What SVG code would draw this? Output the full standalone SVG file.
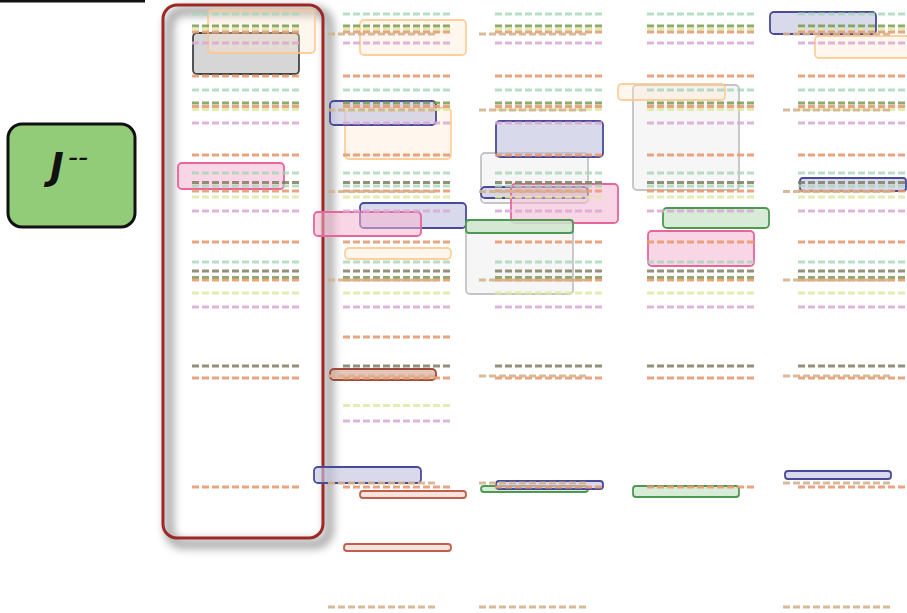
<svg xmlns="http://www.w3.org/2000/svg" xmlns:xlink="http://www.w3.org/1999/xlink" width="907" height="613" viewBox="0 0 907 613">
<style>
.d{stroke-width:3;stroke-dasharray:7 3;fill:none}
.lg{stroke:#a6d6b8;opacity:.8}
.og{stroke:#6f9648;opacity:.8}
.yg{stroke:#dfe9a2;opacity:.85}
.or{stroke:#e99a72;opacity:.9}
.pk{stroke:#dba8d4;opacity:.85}
.dk{stroke:#837d62;opacity:.85}
.tn{stroke:#d3b28e;opacity:.9}
.bx{stroke-width:1.8}
.blue{fill:#c4c4e2;fill-opacity:.65;stroke:#4a4a98}
.pink{fill:#f4b4d0;fill-opacity:.55;stroke:#e8649c}
.ofaint{fill:#ffe6cc;fill-opacity:.35;stroke:#ffc486;stroke-opacity:.8}
.gfaint{fill:#eeeeee;fill-opacity:.5;stroke:#c4c4c4}
.green{fill:#c6e2c6;fill-opacity:.7;stroke:#4c9a52}
.gsolid{fill:#d6d6d6;stroke:#444}
.brown{fill:#d49c8c;fill-opacity:.6;stroke:#a04a3a}
.rthin{fill:#f4dcd4;fill-opacity:.8;stroke:#c0604c}
</style>
<defs>
<filter id="sh" x="-20%" y="-10%" width="140%" height="120%">
<feGaussianBlur stdDeviation="5"/>
</filter>
<g id="lane">
<path class="d lg" d="M0 14H110"/>
<path class="d og" d="M0 26H110"/>
<path class="d yg" d="M0 29H110"/>
<path class="d or" d="M0 32H110"/>
<path class="d pk" d="M0 43H110"/>
<path class="d or" d="M0 76H110"/>
<path class="d lg" d="M0 90H110"/>
<path class="d og" d="M0 103H110"/>
<path class="d or" d="M0 106.5H110"/>
<path class="d yg" d="M0 109.5H110"/>
<path class="d pk" d="M0 123H110"/>
<path class="d or" d="M0 155H110"/>
<path class="d lg" d="M0 173H110"/>
<path class="d dk" d="M0 182.5H110"/>
<path class="d lg" d="M0 186H110"/>
<path class="d or" d="M0 191H110"/>
<path class="d yg" d="M0 197H110"/>
<path class="d pk" d="M0 211H110"/>
<path class="d or" d="M0 242H110"/>
<path class="d lg" d="M0 262H110"/>
<path class="d dk" d="M0 271H110"/>
<path class="d og" d="M0 277.5H110"/>
<path class="d or" d="M0 280H110"/>
<path class="d yg" d="M0 293H110"/>
<path class="d pk" d="M0 307H110"/>
<path class="d dk" d="M0 366H110"/>
<path class="d or" d="M0 378H110"/>
<path class="d or" d="M0 487H110"/>
</g>
<g id="tan">
<path class="d tn" d="M0 34H110"/>
<path class="d tn" d="M0 110H110"/>
<path class="d tn" d="M0 191.5H110"/>
<path class="d tn" d="M0 280H110"/>
<path class="d tn" d="M0 376H110"/>
<path class="d tn" d="M0 483H110"/>
<path class="d tn" d="M0 607H110"/>
</g>
</defs>
<rect x="0" y="0" width="145" height="2.5" fill="#111"/>
<g id="node-j">
<rect x="8" y="124" width="127" height="103" rx="14" fill="#93cc78" stroke="#111" stroke-width="3"/>
<text font-family="DejaVu Sans, sans-serif" font-style="italic" fill="#111"><tspan x="50" y="179" font-size="37" font-weight="bold">J</tspan><tspan x="68" y="167" font-size="28">--</tspan></text>
</g>
<g id="frame">
<rect x="169" y="11" width="160" height="533" rx="14" fill="none" stroke="#000" stroke-opacity=".4" stroke-width="8" filter="url(#sh)"/>
<rect x="163" y="5" width="160" height="533" rx="14" fill="none" stroke="#9b2a26" stroke-width="3"/>
</g>
<g id="boxes">
<g id="b1"><rect class="bx gsolid" x="193" y="33" width="106" height="41" rx="4"/></g>
<g id="b2"><rect class="bx ofaint" x="208" y="10" width="107" height="43" rx="4"/></g>
<g id="b3"><rect class="bx pink" x="178" y="163" width="106" height="26" rx="4"/></g>
<g id="b4"><rect class="bx ofaint" x="360" y="20" width="106" height="35" rx="4"/></g>
<g id="b5"><rect class="bx ofaint" x="345" y="108" width="106" height="51" rx="4"/></g>
<g id="b6"><rect class="bx blue" x="330" y="101" width="106" height="24" rx="4"/></g>
<g id="b7"><rect class="bx blue" x="360" y="203" width="106" height="25" rx="4"/></g>
<g id="b8"><rect class="bx pink" x="314" y="212" width="107" height="24" rx="4"/></g>
<g id="b9"><rect class="bx ofaint" x="345" y="248" width="106" height="11" rx="4"/></g>
<g id="b10"><rect class="bx brown" x="330" y="369" width="106" height="11" rx="4"/></g>
<g id="b11"><rect class="bx blue" x="314" y="467" width="107" height="16" rx="4"/></g>
<g id="b12"><rect class="bx rthin" x="360" y="491" width="106" height="7" rx="3"/></g>
<g id="b13"><rect class="bx rthin" x="344" y="544" width="107" height="7" rx="3"/></g>
<g id="b14"><rect class="bx gfaint" x="481" y="153" width="107" height="50" rx="4"/></g>
<g id="b15"><rect class="bx blue" x="496" y="121" width="107" height="36" rx="4"/></g>
<g id="b16"><rect class="bx blue" x="481" y="187" width="107" height="11" rx="4"/></g>
<g id="b17"><rect class="bx pink" x="511" y="184" width="107" height="39" rx="4"/></g>
<g id="b18"><rect class="bx gfaint" x="466" y="220" width="107" height="74" rx="4"/></g>
<g id="b19"><rect class="bx green" x="466" y="220" width="107" height="13" rx="3"/></g>
<g id="b20"><rect class="bx green" x="481" y="486" width="107" height="6" rx="3"/></g>
<g id="b21"><rect class="bx blue" x="496" y="481" width="107" height="8" rx="3"/></g>
<g id="b22"><rect class="bx gfaint" x="633" y="85" width="106" height="105" rx="4"/></g>
<g id="b23"><rect class="bx ofaint" x="618" y="84" width="107" height="16" rx="4"/></g>
<g id="b24"><rect class="bx green" x="663" y="208" width="106" height="20" rx="4"/></g>
<g id="b25"><rect class="bx pink" x="648" y="231" width="106" height="35" rx="4"/></g>
<g id="b26"><rect class="bx green" x="633" y="486" width="106" height="11" rx="3"/></g>
<g id="b27"><rect class="bx blue" x="770" y="12" width="106" height="22" rx="4"/></g>
<g id="b28"><rect class="bx ofaint" x="815" y="36" width="110" height="22" rx="4"/></g>
<g id="b29"><rect class="bx blue" x="800" y="178" width="106" height="13" rx="3"/></g>
<g id="b30"><rect class="bx blue" x="785" y="471" width="106" height="8" rx="3"/></g>
</g>
<g id="lanes">
<use xlink:href="#lane" x="192"/>
<use xlink:href="#lane" x="343"/>
<use xlink:href="#lane" x="495"/>
<use xlink:href="#lane" x="647"/>
<use xlink:href="#lane" x="798"/>
<path class="d or" d="M343 337H453"/>
<path class="d yg" d="M343 405.5H453"/>
<path class="d pk" d="M343 421H453"/>
<use xlink:href="#tan" x="328"/>
<use xlink:href="#tan" x="479"/>
<use xlink:href="#tan" x="783"/>
</g>
</svg>
